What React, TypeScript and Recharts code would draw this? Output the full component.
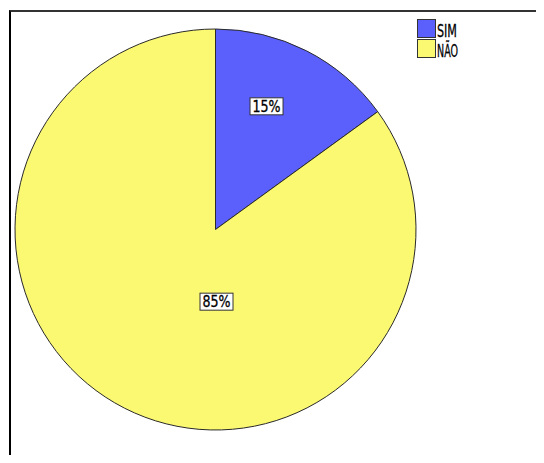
import React from "react";
import { PieChart, Pie, Cell, Legend } from "recharts";

const categories = ["SIM", "NÃO"];
const values = [15, 85];
const colors = ["#5b60fc", "#fbf872"];

const data = categories.map((name, i) => ({ name, value: values[i] }));

// label placement (SPSS-style): angle in degrees, radius as fraction of outer radius
const labelPlacement = [
  { angle: 67.5, r: 0.665 },
  { angle: -89.2, r: 0.36 },
];

const RAD = Math.PI / 180;
const FONT = "'DejaVu Sans Condensed', 'DejaVu Sans', sans-serif";

const renderLabel = (props: any) => {
  const { cx, cy, outerRadius, index, value } = props;
  const p = labelPlacement[index];
  const x = cx + outerRadius * p.r * Math.cos(p.angle * RAD);
  const y = cy - outerRadius * p.r * Math.sin(p.angle * RAD);
  const w = 33;
  const h = 17;
  return (
    <g key={`lbl-${index}`}>
      <rect x={x - w / 2} y={y - h / 2} width={w} height={h} fill="#fff" stroke="#333" strokeWidth={1} />
      <text
        x={x}
        y={y + 5.5}
        textAnchor="middle"
        fontFamily={FONT}
        fontSize={15.5}
        fill="#000"
        stroke="#000"
        strokeWidth={0.3}
        textLength={28}
        lengthAdjust="spacingAndGlyphs"
      >
        {`${value}%`}
      </text>
    </g>
  );
};

const renderLegend = () => (
  <svg width={70} height={44} style={{ display: "block" }}>
    {categories.map((c, i) => (
      <g key={c} transform={`translate(0.5, ${0.5 + i * 20})`}>
        <rect x={0} y={0} width={18} height={18} fill={colors[i]} stroke="#333" strokeWidth={1} />
        <text
          x={19.5}
          y={17}
          fontFamily={FONT}
          fontSize={18}
          fill="#000"
          stroke="#000"
          strokeWidth={0.3}
          textLength={i === 0 ? 20 : 21}
          lengthAdjust="spacingAndGlyphs"
        >
          {c}
        </text>
      </g>
    ))}
  </svg>
);

export default function App() {
  return (
    <div
      style={{
        position: "relative",
        width: 544,
        height: 463,
        margin: -8,
        overflow: "hidden",
        background: "#fff",
      }}
    >
      <div
        style={{
          position: "absolute",
          left: 9,
          top: 10,
          width: 600,
          height: 500,
          borderLeft: "2px solid #000",
          borderTop: "2px solid #333",
        }}
      />
      <div style={{ position: "absolute", left: 0, top: 0 }}>
        <PieChart width={544} height={463} margin={{ top: 0, right: 0, bottom: 0, left: 0 }}>
          <Pie
            data={data}
            dataKey="value"
            nameKey="name"
            cx={215.5}
            cy={229.5}
            outerRadius={200.5}
            startAngle={90}
            endAngle={-270}
            stroke="#2a2a2a"
            strokeWidth={1}
            label={renderLabel}
            labelLine={false}
            isAnimationActive={false}
          >
            {data.map((d, i) => (
              <Cell key={d.name} fill={colors[i]} />
            ))}
          </Pie>
          <Legend
            content={renderLegend}
            layout="vertical"
            align="right"
            verticalAlign="top"
            wrapperStyle={{ position: "absolute", left: 416.5, top: 18.5, width: 70 }}
          />
        </PieChart>
      </div>
    </div>
  );
}
